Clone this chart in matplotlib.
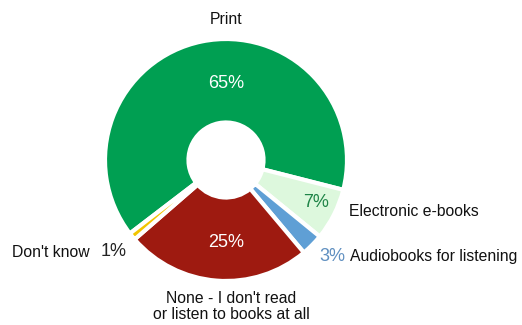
import matplotlib.pyplot as plt

categories = ["Print", "Electronic e-books", "Audiobooks for listening",
              "None - I don't read\nor listen to books at all", "Don't know"]
values = [65, 7, 3, 25, 1]
pct_labels = ["65%", "7%", "3%", "25%", "1%"]

colors = ["#009f52", "#ddf8dd", "#5f9fd5", "#9e1a10", "#f2c500"]
pct_colors = ["white", "#1f8447", "#5f8fc0", "white", "#222222"]

# text placements in pie-radius units (centre = 0,0)
pct_pos = [(0, 0.636), (0.744, -0.355), (0.876, -0.80), (0, -0.68), (-0.926, -0.76)]
lab_pos = [(0, 1.16, 'center'), (1.017, -0.428, 'left'), (1.025, -0.80, 'left'),
           (0.041, -1.21, 'center'), (-1.124, -0.762, 'right')]

plt.rcParams['font.family'] = ['Liberation Sans', 'DejaVu Sans']

fig = plt.figure(figsize=(5.22, 3.25), dpi=100)
ax = fig.add_axes([0, 0, 1, 1])

cx, cy, R = 226, 160, 121
ax.pie(values, colors=colors, startangle=217.4, counterclock=False, radius=1,
       wedgeprops=dict(width=0.69, edgecolor='white', linewidth=3))

for (x, y), t, c in zip(pct_pos, pct_labels, pct_colors):
    ax.text(x, y, t, ha='center', va='center', fontsize=13, color=c)

for (x, y, ha), t in zip(lab_pos, categories):
    ax.text(x, y, t, ha=ha, va='center', fontsize=11.3, color='#111111',
            linespacing=1.05)

ax.set_aspect('auto')
ax.set_xlim(-cx / R, (522 - cx) / R)
ax.set_ylim(-(325 - cy) / R, cy / R)
ax.axis('off')

fig.savefig("out.png", dpi=100, facecolor='white')
